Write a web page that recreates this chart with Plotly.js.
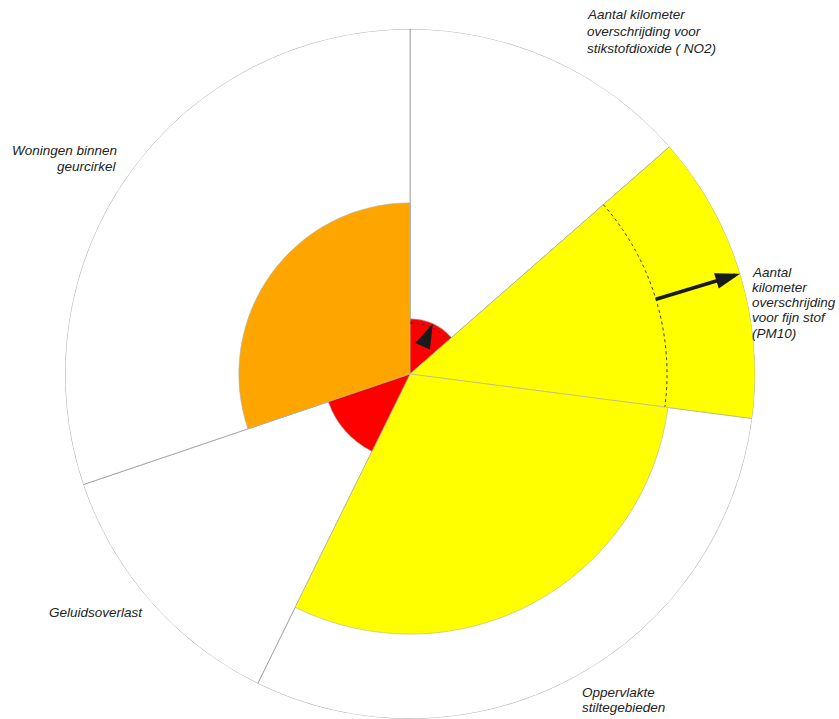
<!DOCTYPE html>
<html>
<head>
<meta charset="utf-8">
<script src="https://cdn.plot.ly/plotly-3.0.1.min.js"></script>
<style>html,body{margin:0;padding:0;background:#fff;}#chart{width:839px;height:719px;}</style>
</head>
<body>
<div id="chart"></div>
<script>
// ---- data ----
const categories = ['NO2', 'PM10', 'Stiltegebieden', 'Geluidsoverlast', 'Geurcirkel'];
const sectorStart = [0, 48.8, 97.4, 206.2, 251.3];
const sectorWidth = [48.8, 48.6, 108.8, 45.1, 108.7];
const currentValues = [16, 101.5, 75.4, 25, 49.6];
const previousValues = [14.8, 74.5, null, null, null];
const barColors = ['#FF0000', '#FFFF00', '#FFFF00', '#FF0000', '#FFA500'];
const scaleMax = 100;

const labelLines = [
  ['Aantal kilometer', 'overschrijding voor', 'stikstofdioxide ( NO2)'],
  ['Aantal', 'kilometer', 'overschrijding', 'voor fijn stof', '(PM10)'],
  ['Oppervlakte', 'stiltegebieden'],
  ['Geluidsoverlast'],
  ['Woningen binnen', 'geurcirkel']
];

// ---- build ----
const centers = sectorStart.map((s, i) => s + sectorWidth[i] / 2);
const traces = [];

// background sectors (full scale)
traces.push({
  type: 'barpolar',
  r: categories.map(() => scaleMax),
  theta: centers,
  width: sectorWidth,
  marker: {color: '#ffffff', line: {color: '#9a9a9a', width: 0.8}},
  hoverinfo: 'skip', showlegend: false
});

// value sectors
traces.push({
  type: 'barpolar',
  r: currentValues.map(v => Math.min(v, scaleMax)),
  theta: centers,
  width: sectorWidth,
  text: categories,
  marker: {color: barColors, line: {color: '#b0b0a0', width: 0.6}},
  hoverinfo: 'text+r', showlegend: false
});

// previous value arcs (dotted) and change arrows
previousValues.forEach((pv, i) => {
  if (pv === null) return;
  const th = [], rr = [];
  for (let a = sectorStart[i]; a <= sectorStart[i] + sectorWidth[i] + 1e-9; a += 0.5) {
    th.push(a); rr.push(pv);
  }
  traces.push({
    type: 'scatterpolar', mode: 'lines', r: rr, theta: th,
    line: {color: '#333333', width: 1, dash: 'dot'},
    hoverinfo: 'skip', showlegend: false, cliponaxis: false
  });
  const tip = Math.min(currentValues[i], scaleMax);
  traces.push({
    type: 'scatterpolar', mode: 'lines',
    r: [pv, Math.max(pv, tip - 1.5)], theta: [centers[i], centers[i]],
    line: {color: '#1a1a1a', width: 3.5},
    hoverinfo: 'skip', showlegend: false, cliponaxis: false
  });
  traces.push({
    type: 'scatterpolar', mode: 'markers',
    r: [tip], theta: [centers[i]],
    marker: {symbol: 'arrow', size: 26, color: '#1a1a1a',
             angle: centers[i], line: {width: 0}},
    hoverinfo: 'skip', showlegend: false, cliponaxis: false
  });
});

// ---- labels ----
const labelFont = {family: '"Liberation Sans", Arial, sans-serif', size: 13.5, color: '#222', style: 'italic'};
const labelPos = [
  {x: 585, y: 15, dy: 16.5, align: 'left'},
  {x: 750, y: 272, dy: 15.3, align: 'left'},
  {x: 580, y: 692, dy: 15, align: 'left'},
  {x: 47, y: 612, dy: 15, align: 'left'},
  {x: 119, y: 151, dy: 15, align: 'right'}
];
const W = 839, H = 719;
const annotations = [];
labelLines.forEach((lines, i) => {
  const p = labelPos[i];
  lines.forEach((t, j) => {
    annotations.push({
      text: t, xref: 'paper', yref: 'paper',
      x: p.x / W, y: 1 - (p.y + j * p.dy) / H,
      xanchor: p.align, yanchor: 'middle', showarrow: false,
      font: labelFont
    });
  });
});

// ---- layout ----
const cx = 410, cy = 374, R = 345;
const layout = {
  width: W, height: H,
  margin: {l: 0, r: 0, t: 0, b: 0},
  paper_bgcolor: '#ffffff',
  showlegend: false,
  polar: {
    domain: {x: [(cx - R) / W, (cx + R) / W], y: [(H - cy - R) / H, (H - cy + R) / H]},
    bgcolor: '#ffffff',
    barmode: 'overlay',
    bargap: 0,
    angularaxis: {direction: 'clockwise', rotation: 90, showline: false, showgrid: false,
                  showticklabels: false, ticks: ''},
    radialaxis: {range: [0, scaleMax], visible: false, showgrid: false}
  },
  annotations: annotations
};

Plotly.newPlot('chart', traces, layout, {displayModeBar: false, staticPlot: true});
</script>
</body>
</html>
